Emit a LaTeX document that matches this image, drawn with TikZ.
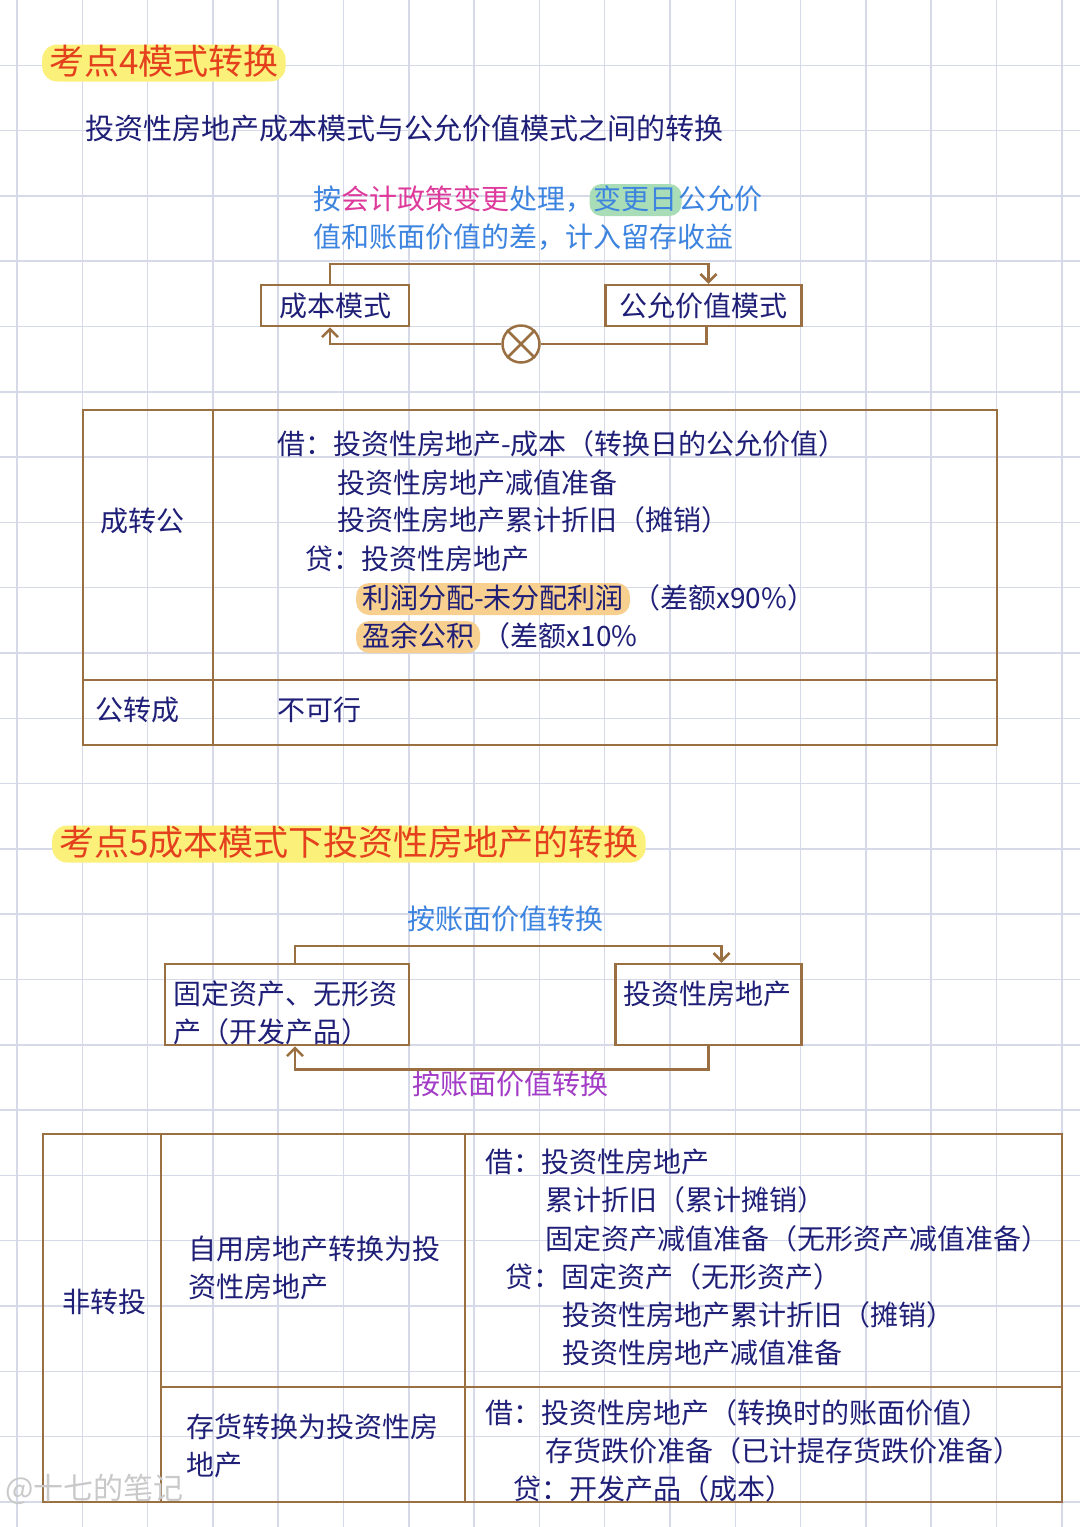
\documentclass[tikz,border=0pt]{standalone}
\usepackage{fontspec}
\newfontfamily\hand{Noto Sans CJK SC}
\usetikzlibrary{positioning,arrows.meta}

\definecolor{gridline}{HTML}{D6DAE8}
\definecolor{ink}{HTML}{1F1F78}
\definecolor{brownline}{HTML}{9A7043}
\definecolor{titlered}{HTML}{E4401E}
\definecolor{skyblue}{HTML}{3C84DF}
\definecolor{rosepink}{HTML}{DD3A9C}
\definecolor{violetlbl}{HTML}{A23BC6}
\definecolor{marker}{HTML}{FBF07A}
\definecolor{orangemark}{HTML}{F7CF8E}
\definecolor{greenmark}{HTML}{A9DDB7}
\definecolor{wmgray}{HTML}{C9C9C9}

\begin{document}
\begin{tikzpicture}[
    x=1pt, y=-1pt,
    txt/.style={font=\hand\fontsize{28}{38}\selectfont, text=ink, inner sep=0pt, anchor=west, text height=23pt, text depth=5pt},
    cell/.style={txt, align=left, text width=270pt, text depth=43pt},
    title/.style={txt, font=\hand\fontsize{35}{40}\selectfont, text=titlered, fill=marker, rounded corners=15pt, inner xsep=7pt, inner ysep=1pt, text height=29pt, text depth=6pt},
    hilite/.style={fill=orangemark, rounded corners=13pt, inner xsep=6pt, inner ysep=2pt},
    box/.style={draw=brownline, line width=2.5pt, inner sep=0pt, font=\hand\fontsize{28}{38}\selectfont, text=ink},
    link/.style={draw=brownline, line width=2.5pt, -{Straight Barb[length=8pt,width=16pt]}},
    frame/.style={draw=brownline, line width=2.5pt}
]

\fill[white] (0,0) rectangle (1080,1527);
\useasboundingbox (0,0) rectangle (1080,1527);
\foreach \i in {0,...,16} \draw[gridline, line width=1.5pt] (17+65.3*\i,0) -- (17+65.3*\i,1527);
\foreach \j in {1,...,23} \draw[gridline, line width=1.5pt] (0,65.3*\j) -- (1080,65.3*\j);

\node[title] (t4) at (42,63) {考点4模式转换};
\node[txt, font=\hand\fontsize{29}{34}\selectfont] (sub) at (85,130) {投资性房地产成本模式与公允价值模式之间的转换};

\node[txt, text=skyblue] (n1) at (313,200) {按\textcolor{rosepink}{会计政策变更}处理，};
\node[txt, text=skyblue, fill=greenmark, rounded corners=12pt, inner xsep=4pt, inner ysep=2pt, right=-4pt of n1] (n2) {变更日};
\node[txt, text=skyblue, right=-4pt of n2] (n3) {公允价};
\node[txt, text=skyblue] (n4) at (313,238) {值和账面价值的差，计入留存收益};

\node[box, minimum width=148pt, minimum height=41pt] (cost) at (335,305.5) {成本模式};
\node[box, minimum width=196pt, minimum height=41pt, right=194pt of cost] (fair) {公允价值模式};
\node[draw=brownline, line width=2.5pt, circle, minimum size=37pt, inner sep=0pt] (cross) at (521,344) {};
\draw[frame] (cross.north west) -- (cross.south east);
\draw[frame] (cross.north east) -- (cross.south west);

\draw[link] ([xshift=-5pt]cost.north) -- ++(0,-20) -| ([xshift=5pt]fair.north);
\draw[frame] ([xshift=3pt]fair.south) |- (cross);
\draw[link] (cross) -| ([xshift=-5pt]cost.south);

\draw[frame] (83,410) rectangle (997,745);
\draw[frame] (213,410) -- (213,745);
\draw[frame] (83,680) -- (997,680);

\node[txt] (c2f) at (100,522) {成转公};
\node[txt] (f2c) at (95,711) {公转成};
\node[txt] (dr1) at (277,445) {借：投资性房地产-成本（转换日的公允价值）};
\node[txt] (dr2) at (337,484) {投资性房地产减值准备};
\node[txt] (dr3) at (337,521) {投资性房地产累计折旧（摊销）};
\node[txt] (cr1) at (305,560) {贷：投资性房地产};
\node[txt, hilite] (cr2) at (356,599) {利润分配-未分配利润};
\node[txt, right=2pt of cr2] (cr2n) {（差额x90\%）};
\node[txt, hilite] (cr3) at (356,637) {盈余公积};
\node[txt, right=2pt of cr3] (cr3n) {（差额x10\%};
\node[txt] (no) at (277,711) {不可行};

\node[title] (t5) at (52,844) {考点5成本模式下投资性房地产的转换};

\node[txt, text=skyblue, anchor=center] (up) at (505,920) {按账面价值转换};
\node[box, align=left, text width=228pt, inner xsep=8pt, text height=40pt, text depth=41pt] (fixed) at (287,1004.5) {固定资产、无形资\\产（开发产品）};
\node[box, align=left, text width=170pt, inner xsep=8pt, text height=40pt, text depth=41pt] (inv) at (708.5,1004.5) {投资性房地产};
\node[txt, text=violetlbl, anchor=center] (down) at (510,1085) {按账面价值转换};

\draw[link] ([xshift=8pt]fixed.north) -- ++(0,-17) -| ([xshift=13pt]inv.north);
\draw[link] (inv.south) -- ++(0,23) -| ([xshift=8pt]fixed.south);

\draw[frame] (43,1134) rectangle (1062,1502);
\draw[frame] (161,1134) -- (161,1502);
\draw[frame] (465,1134) -- (465,1502);
\draw[frame] (161,1387) -- (1062,1387);

\node[txt] (nt) at (62,1303) {非转投};
\node[cell] (own) at (188,1269) {自用房地产转换为投\\资性房地产};
\node[cell] (stock) at (186,1447) {存货转换为投资性房\\地产};
\node[txt] (a1) at (485,1163) {借：投资性房地产};
\node[txt] (a2) at (545,1201) {累计折旧（累计摊销）};
\node[txt] (a3) at (545,1240) {固定资产减值准备（无形资产减值准备）};
\node[txt] (a4) at (505,1278) {贷：固定资产（无形资产）};
\node[txt] (a5) at (562,1316) {投资性房地产累计折旧（摊销）};
\node[txt] (a6) at (562,1354) {投资性房地产减值准备};
\node[txt] (b1) at (485,1414) {借：投资性房地产（转换时的账面价值）};
\node[txt] (b2) at (545,1452) {存货跌价准备（已计提存货跌价准备）};
\node[txt] (b3) at (513,1490) {贷：开发产品（成本）};

\node[txt, font=\hand\fontsize{30}{30}\selectfont, text=wmgray] (wm) at (5,1490) {@十七的笔记};

\end{tikzpicture}
\end{document}
